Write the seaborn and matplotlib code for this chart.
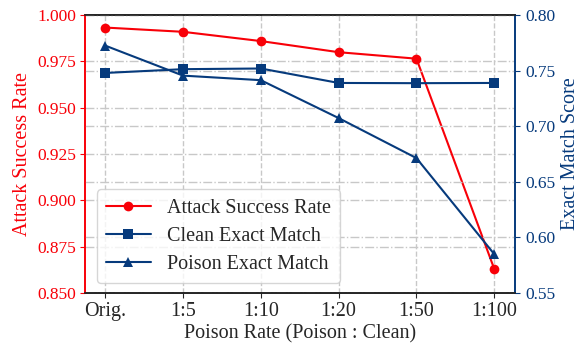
import matplotlib
matplotlib.use("Agg")
import matplotlib.pyplot as plt
import seaborn as sns
import pandas as pd
import numpy as np

categories = ["Orig.", "1:5", "1:10", "1:20", "1:50", "1:100"]
asr = [0.9933, 0.991, 0.986, 0.980, 0.9765, 0.863]
clean_em = [0.748, 0.7514, 0.752, 0.739, 0.7388, 0.739]
poison_em = [0.7726, 0.7456, 0.7415, 0.7074, 0.6714, 0.585]

RED = "#F80008"
NAVY = "#063A7C"

sns.set_style("ticks")
plt.rcParams["font.family"] = ["Liberation Serif", "DejaVu Serif"]

df = pd.DataFrame({"x": np.arange(len(categories)), "asr": asr,
                   "clean": clean_em, "poison": poison_em})

fig, ax = plt.subplots(figsize=(5.86, 3.44), dpi=100)
ax2 = ax.twinx()

sns.lineplot(data=df, x="x", y="asr", ax=ax, color=RED, marker="o",
             markersize=7, markeredgewidth=0, linewidth=1.5, label="Attack Success Rate", legend=False)
sns.lineplot(data=df, x="x", y="clean", ax=ax2, color=NAVY, marker="s",
             markersize=7, markeredgewidth=0, linewidth=1.5, label="Clean Exact Match", legend=False)
sns.lineplot(data=df, x="x", y="poison", ax=ax2, color=NAVY, marker="^",
             markersize=7, markeredgewidth=0, linewidth=1.5, label="Poison Exact Match", legend=False)

ax.set_xlim(-0.26, 5.26)
ax.set_ylim(0.85, 1.0)
ax2.set_ylim(0.55, 0.80)
ax.set_xticks(range(len(categories)))
ax.set_xticklabels(categories)
ax.set_yticks(np.arange(0.85, 1.0001, 0.025))
ax.set_yticklabels([f"{v:.3f}" for v in np.arange(0.85, 1.0001, 0.025)])
ax2.set_yticks(np.arange(0.55, 0.8001, 0.05))
ax2.set_yticklabels([f"{v:.2f}" for v in np.arange(0.55, 0.8001, 0.05)])

ax.set_xlabel("Poison Rate (Poison : Clean)", fontsize=14.5, labelpad=2)
ax.set_ylabel("Attack Success Rate", fontsize=14.5, color=RED, labelpad=4)
ax2.set_ylabel("Exact Match Score", fontsize=14.5, color=NAVY, labelpad=4)

ax.tick_params(axis="y", colors=RED, labelsize=12.5, length=3.5, pad=3)
ax.tick_params(axis="x", labelsize=14.5, length=3.5, pad=3)
ax2.tick_params(axis="y", colors=NAVY, labelsize=12.5, length=3.5, pad=4)

for a in (ax, ax2):
    a.spines["left"].set_color(RED)
    a.spines["right"].set_color(NAVY)
    a.spines["bottom"].set_color("#222222")
    a.spines["top"].set_color("#222222")
    for s in a.spines.values():
        s.set_linewidth(1.2)

ax.xaxis.grid(True, linestyle="--", color="#c8c8c8", linewidth=1)
ax.yaxis.grid(True, linestyle="-.", color="#c8c8c8", linewidth=1)
ax2.yaxis.grid(True, linestyle="-.", color="#c8c8c8", linewidth=1)
ax.set_axisbelow(True)
ax2.set_axisbelow(True)

h1, l1 = ax.get_legend_handles_labels()
h2, l2 = ax2.get_legend_handles_labels()
leg = ax2.legend(h1 + h2, l1 + l2, loc="lower left", fontsize=14.5,
                 frameon=True, fancybox=True, framealpha=0.8, edgecolor="#cccccc",
                 bbox_to_anchor=(0.005, 0.0), handlelength=2.2, labelspacing=0.45,
                 borderpad=0.45, handletextpad=0.8)

fig.subplots_adjust(left=0.145, right=0.878, top=0.956, bottom=0.148)
fig.savefig("out.png", dpi=100)
